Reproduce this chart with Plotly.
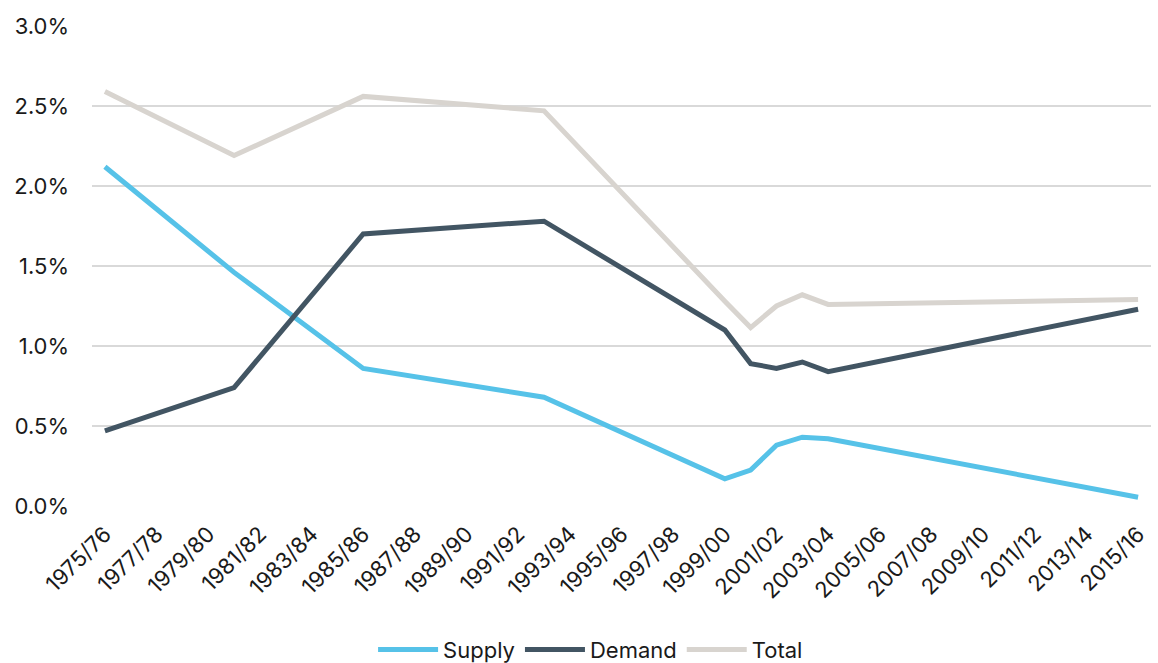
import plotly.graph_objects as go

# Financial years shown on the category axis
years = [f"{y}/{str(y + 1)[-2:]}" for y in range(1975, 2016)]
tick_years = years[::2]

# Observation years and contribution (%) series
obs_years = ["1975/76", "1980/81", "1985/86", "1992/93", "1999/00",
             "2000/01", "2001/02", "2002/03", "2003/04", "2015/16"]
supply = [2.12, 1.46, 0.86, 0.68, 0.17, 0.225, 0.38, 0.43, 0.42, 0.055]
demand = [0.47, 0.74, 1.70, 1.78, 1.10, 0.89, 0.86, 0.90, 0.84, 1.23]
total = [2.59, 2.19, 2.56, 2.47, 1.28, 1.115, 1.25, 1.32, 1.26, 1.29]

fig = go.Figure()
for name, vals, color in [("Supply", supply, "#56C2E8"),
                          ("Demand", demand, "#425563"),
                          ("Total", total, "#D8D4CF")]:
    fig.add_trace(go.Scatter(x=obs_years, y=vals, name=name, mode="lines",
                             line=dict(color=color, width=5)))

font = "Inter, Liberation Sans, Arial, sans-serif"
fig.update_layout(
    width=1158, height=663,
    margin=dict(l=92, r=7, t=26, b=157),
    paper_bgcolor="white", plot_bgcolor="white",
    font=dict(family=font, size=22, color="#1a1a1a"),
    showlegend=True,
    legend=dict(orientation="h", xref="container", yref="container",
                x=0.51, xanchor="center", y=0.02, yanchor="middle",
                font=dict(size=22), itemwidth=60),
    xaxis=dict(type="category", categoryorder="array", categoryarray=years,
               range=[-0.5, 40.5], tickvals=tick_years, ticktext=tick_years,
               tickangle=-45, showgrid=False, zeroline=False, showline=False,
               ticks="", ticklabelstandoff=10),
    yaxis=dict(range=[0, 3.0], dtick=0.5, tickformat=".1f", ticksuffix="%",
               showgrid=True, gridcolor="#D9D9D9", gridwidth=2,
               zeroline=False, showline=False, ticklabelstandoff=22),
)

fig.write_html("out.html")
